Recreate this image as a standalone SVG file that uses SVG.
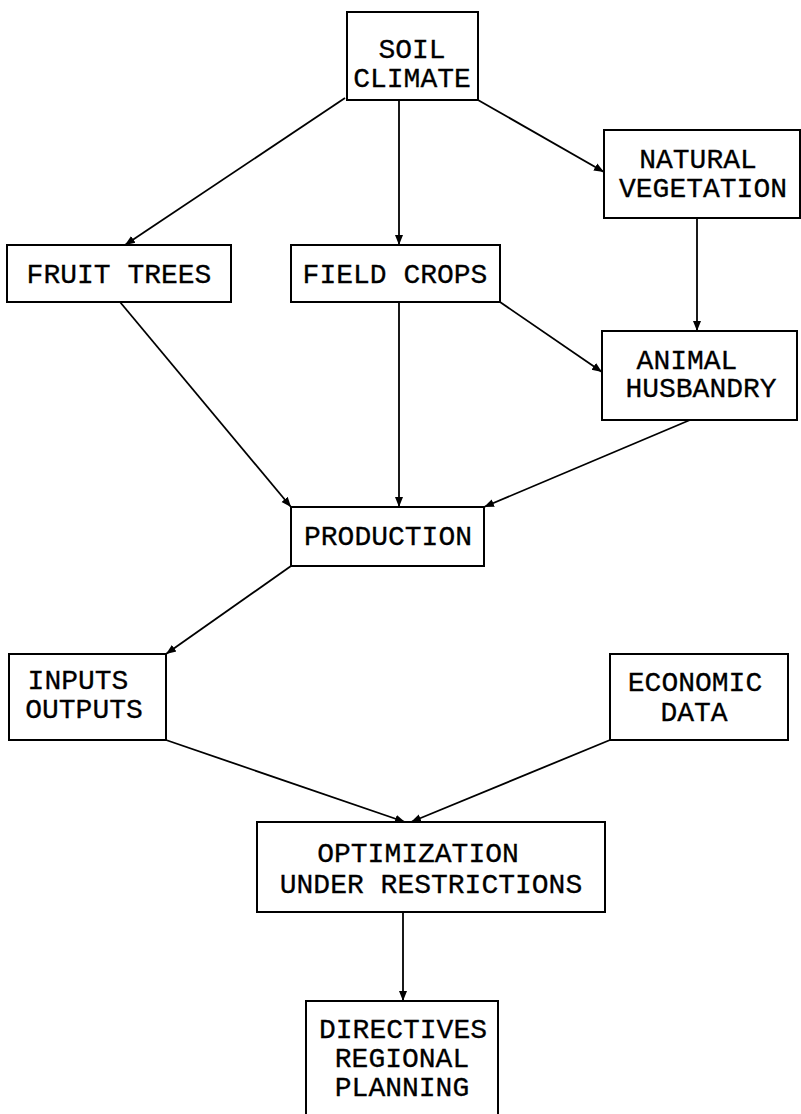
<svg xmlns="http://www.w3.org/2000/svg" width="801" height="1114" viewBox="0 0 801 1114">
<style>
.box{fill:#fff;stroke:#000;stroke-width:2}
.t{font-family:"Liberation Mono",monospace;font-size:28px;fill:#000;text-anchor:middle;stroke:#000;stroke-width:0.3}
.c{stroke:#000;stroke-width:1.8;fill:none;marker-end:url(#ah)}
</style>
<defs>
<marker id="ah" viewBox="0 0 10 10" refX="10" refY="5" markerWidth="10" markerHeight="10" markerUnits="userSpaceOnUse" orient="auto">
<path d="M0,1 L10,5 L0,9 z" fill="#000"/>
</marker>
</defs>
<rect width="801" height="1114" fill="#fff"/>
<g id="connectors">
<line class="c" x1="345" y1="98" x2="125" y2="245"/>
<line class="c" x1="399" y1="100" x2="399" y2="245"/>
<line class="c" x1="478" y1="100" x2="604" y2="172"/>
<line class="c" x1="697" y1="218" x2="697" y2="331"/>
<line class="c" x1="500" y1="302" x2="602" y2="372"/>
<line class="c" x1="120" y1="302" x2="291" y2="507"/>
<line class="c" x1="399" y1="302" x2="399" y2="507"/>
<line class="c" x1="690" y1="420" x2="484" y2="507"/>
<line class="c" x1="291" y1="566" x2="166" y2="654"/>
<line class="c" x1="166" y1="740" x2="405" y2="822"/>
<line class="c" x1="610" y1="740" x2="411" y2="822"/>
<line class="c" x1="403" y1="912" x2="403" y2="1001"/>
</g>
<g id="soil">
<rect class="box" x="347" y="12" width="131" height="88"/>
<text class="t" x="412" y="58">SOIL</text>
<text class="t" x="412" y="87">CLIMATE</text>
</g>
<g id="natveg">
<rect class="box" x="604" y="130" width="196" height="88"/>
<text class="t" x="698" y="168">NATURAL</text>
<text class="t" x="703" y="197">VEGETATION</text>
</g>
<g id="fruit">
<rect class="box" x="7" y="245" width="224" height="57"/>
<text class="t" x="119" y="283">FRUIT TREES</text>
</g>
<g id="field">
<rect class="box" x="291" y="245" width="209" height="57"/>
<text class="t" x="395" y="283">FIELD CROPS</text>
</g>
<g id="animal">
<rect class="box" x="602" y="331" width="195" height="89"/>
<text class="t" x="687" y="369">ANIMAL</text>
<text class="t" x="701" y="397">HUSBANDRY</text>
</g>
<g id="production">
<rect class="box" x="291" y="507" width="193" height="59"/>
<text class="t" x="388" y="545">PRODUCTION</text>
</g>
<g id="inout">
<rect class="box" x="9" y="654" width="157" height="86"/>
<text class="t" x="78" y="689">INPUTS</text>
<text class="t" x="84" y="718">OUTPUTS</text>
</g>
<g id="econ">
<rect class="box" x="610" y="654" width="178" height="86"/>
<text class="t" x="695" y="691">ECONOMIC</text>
<text class="t" x="694" y="721">DATA</text>
</g>
<g id="optim">
<rect class="box" x="257" y="822" width="348" height="90"/>
<text class="t" x="418" y="862">OPTIMIZATION</text>
<text class="t" x="431" y="893">UNDER RESTRICTIONS</text>
</g>
<g id="directives">
<rect class="box" x="306" y="1001" width="192" height="125"/>
<text class="t" x="403" y="1038">DIRECTIVES</text>
<text class="t" x="402" y="1067">REGIONAL</text>
<text class="t" x="402" y="1096">PLANNING</text>
</g>
</svg>
